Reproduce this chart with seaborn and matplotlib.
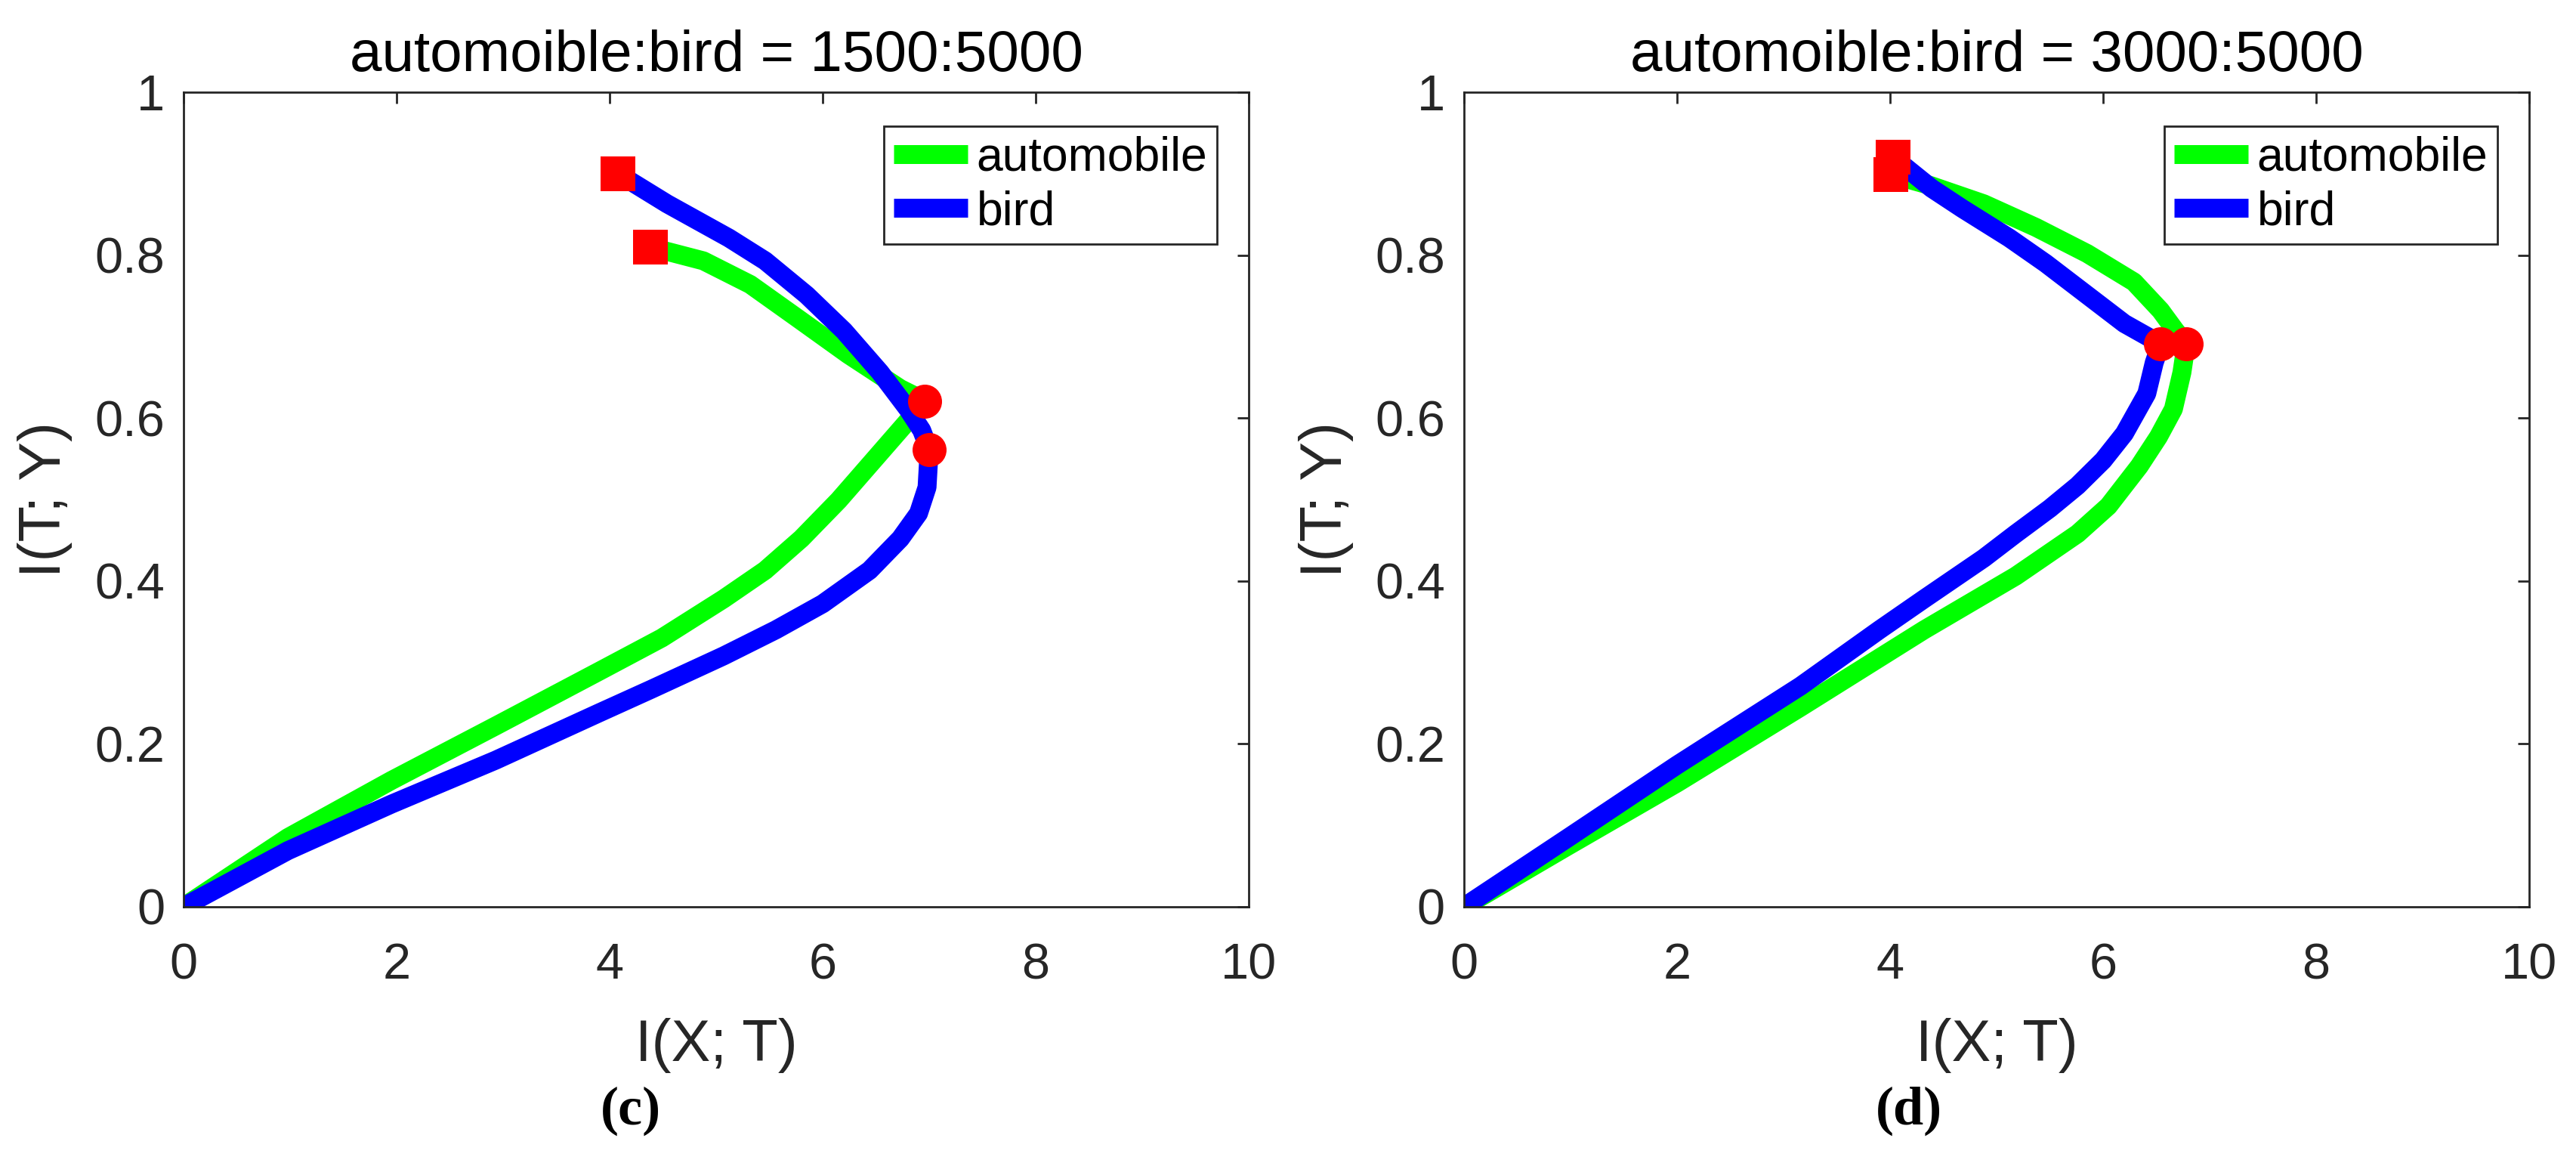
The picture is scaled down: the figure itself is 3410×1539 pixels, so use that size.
import matplotlib
matplotlib.use("Agg")
import pandas as pd
import matplotlib.pyplot as plt
import seaborn as sns

# Panel (c): automobile:bird = 1500:5000  (traced from origin to the final point)
c_auto_x = [0, 0.98, 1.95, 2.93, 3.90, 4.49, 5.07, 5.46, 5.80, 6.15, 6.49, 6.83, 6.96,
            6.73, 6.24, 5.76, 5.32, 4.88, 4.38]
c_auto_y = [0, 0.085, 0.155, 0.222, 0.289, 0.33, 0.378, 0.413, 0.452, 0.499, 0.55, 0.601, 0.621,
            0.636, 0.678, 0.723, 0.764, 0.793, 0.81]
c_bird_x = [0, 0.98, 1.95, 2.93, 3.90, 4.39, 5.07, 5.56, 6.0, 6.44, 6.73, 6.90, 6.98, 7.0,
            6.93, 6.80, 6.54, 6.2, 5.85, 5.46, 5.12, 4.54, 4.08]
c_bird_y = [0, 0.069, 0.126, 0.180, 0.238, 0.267, 0.308, 0.34, 0.372, 0.413, 0.452, 0.483, 0.515, 0.561,
            0.585, 0.611, 0.656, 0.707, 0.751, 0.793, 0.821, 0.863, 0.90]
c_peak_x = [6.96, 7.0]
c_peak_y = [0.621, 0.561]
c_end_x = [4.38, 4.08]
c_end_y = [0.81, 0.90]

# Panel (d): automobile:bird = 3000:5000
d_auto_x = [0, 0.98, 2.0, 3.16, 4.32, 5.18, 5.76, 6.05, 6.34, 6.52, 6.66, 6.74, 6.78,
            6.68, 6.54, 6.29, 5.85, 5.37, 4.88, 4.39, 4.01]
d_auto_y = [0, 0.075, 0.152, 0.245, 0.34, 0.406, 0.458, 0.492, 0.541, 0.577, 0.611, 0.656, 0.691,
            0.707, 0.732, 0.767, 0.802, 0.834, 0.863, 0.885, 0.899]
d_bird_x = [0, 0.98, 2.0, 3.16, 3.90, 4.32, 4.88, 5.18, 5.50, 5.76, 6.0, 6.2, 6.41, 6.48, 6.54,
            6.2, 5.85, 5.46, 5.12, 4.68, 4.39, 4.03]
d_bird_y = [0, 0.085, 0.174, 0.271, 0.34, 0.378, 0.428, 0.458, 0.489, 0.517, 0.548, 0.581, 0.63, 0.668, 0.691,
            0.716, 0.751, 0.79, 0.821, 0.857, 0.882, 0.92]
d_peak_x = [6.78, 6.54]
d_peak_y = [0.691, 0.691]
d_end_x = [4.01, 4.03]
d_end_y = [0.899, 0.92]

titles = ["automoible:bird = 1500:5000", "automoible:bird = 3000:5000"]
panel_tags = ["(c)", "(d)"]
classes = ["automobile", "bird"]
x_ticks = [0, 2, 4, 6, 8, 10]
x_ticklabels = ["0", "2", "4", "6", "8", "10"]
y_ticks = [0, 0.2, 0.4, 0.6, 0.8, 1.0]
y_ticklabels = ["0", "0.2", "0.4", "0.6", "0.8", "1"]
colors = {"automobile": "#00ff00", "bird": "#0000ff"}

sns.set_theme(style="white")
plt.rcParams["font.family"] = ["Liberation Sans", "DejaVu Sans"]

fig = plt.figure(figsize=(34.1, 15.39), dpi=100)
ax_pos = [[243 / 3410, 1 - 1200 / 1539, 1410 / 3410, 1078 / 1539],
          [1938 / 3410, 1 - 1200 / 1539, 1410 / 3410, 1078 / 1539]]

panels = [
    (c_auto_x, c_auto_y, c_bird_x, c_bird_y, c_peak_x, c_peak_y, c_end_x, c_end_y),
    (d_auto_x, d_auto_y, d_bird_x, d_bird_y, d_peak_x, d_peak_y, d_end_x, d_end_y),
]

dark = "#262626"
for i, (a_x, a_y, b_x, b_y, pk_x, pk_y, en_x, en_y) in enumerate(panels):
    ax = fig.add_axes(ax_pos[i])
    curves = {"automobile": (a_x, a_y), "bird": (b_x, b_y)}
    for cls in classes:
        sub = pd.DataFrame({"x": curves[cls][0], "y": curves[cls][1]})
        sns.lineplot(data=sub, x="x", y="y", sort=False, estimator=None,
                     color=colors[cls], linewidth=18, label=cls, ax=ax,
                     solid_joinstyle="round", solid_capstyle="butt")
    # red markers: squares at the end point, circles at the turning point
    sns.scatterplot(x=en_x, y=en_y, marker="s", s=1050, color="#ff0000",
                    linewidth=0, ax=ax, zorder=5, legend=False)
    sns.scatterplot(x=pk_x, y=pk_y, marker="o", s=1050, color="#ff0000",
                    linewidth=0, ax=ax, zorder=5, legend=False)

    ax.set_xlim(0, 10)
    ax.set_ylim(0, 1)
    ax.set_xticks(x_ticks)
    ax.set_xticklabels(x_ticklabels)
    ax.set_yticks(y_ticks)
    ax.set_yticklabels(y_ticklabels)
    ax.tick_params(axis="both", direction="in", length=11, width=2, color=dark,
                   labelsize=48, labelcolor=dark, top=True, right=True)
    ax.tick_params(axis="x", pad=34)
    ax.tick_params(axis="y", pad=18)
    for sp in ax.spines.values():
        sp.set_visible(True)
        sp.set_color(dark)
        sp.set_linewidth(2)

    ax.set_title(titles[i], fontsize=55, color="black", pad=20)
    ax.set_xlabel("I(X; T)", fontsize=56, color=dark, va="center")
    ax.set_ylabel("I(T; Y)", fontsize=56, color=dark, va="center")
    ax.xaxis.set_label_coords(0.5, -(1384 - 1200) / 1078)
    ax.yaxis.set_label_coords((60 - 243) / 1410, 0.5)

    leg = ax.legend(loc="upper right", bbox_to_anchor=(1 - 42 / 1410, 1 - 45 / 1078),
                    borderaxespad=0, fontsize=45, handlelength=1.57, handletextpad=0.19,
                    labelspacing=0.2, borderpad=0.2, fancybox=False, framealpha=1)
    leg.get_frame().set_edgecolor(dark)
    leg.get_frame().set_linewidth(2)
    for t in leg.get_texts():
        t.set_color("black")

tag_x = [835 / 3410, 2527 / 3410]
for i, tag in enumerate(panel_tags):
    fig.text(tag_x[i], 1 - 1470 / 1539, tag, ha="center", va="center",
             fontsize=52, fontweight="bold", family=["Liberation Serif", "DejaVu Serif"],
             color="black")

fig.savefig("out.png", dpi=100)
